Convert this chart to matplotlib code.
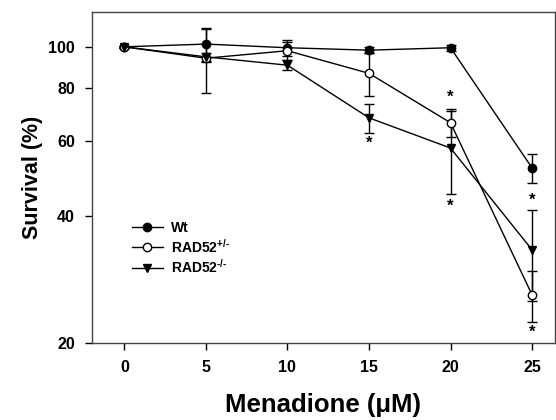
import matplotlib.pyplot as plt
from matplotlib.ticker import FixedLocator, NullLocator, FixedFormatter
from matplotlib.lines import Line2D

plt.rcParams['font.family'] = ['Liberation Sans', 'DejaVu Sans']
plt.rcParams['font.weight'] = 'bold'
plt.rcParams['mathtext.fontset'] = 'custom'
plt.rcParams['mathtext.rm'] = 'Liberation Sans:bold'
plt.rcParams['mathtext.bf'] = 'Liberation Sans:bold'
plt.rcParams['mathtext.default'] = 'bf'

# datos
dosis = [0, 5, 10, 15, 20, 25]
wt = [100, 101.5, 99.5, 98.2, 99.5, 51.8]
wt_err = [0.5, 9.5, 4.5, 1.5, 1.5, 4.0]
het = [100, 94, 97.9, 86.6, 66.2, 26.0]
het_err = [0.5, 16, 5, 10, 5, 3.6]
ko = [100, 94.7, 90.5, 68, 57.7, 33.2]
ko_err = [0.5, 2, 2.5, 5.3, 12.7, 8]
etiquetas = ['Wt', 'RAD52$^{+/\\text{-}}$', 'RAD52$^{\\text{-}/\\text{-}}$']
# asteriscos (dosis, valor)
ast_x = [15, 20, 20, 25, 25]
ast_y = [59.3, 76, 42, 43.4, 21.2]

fig = plt.figure(figsize=(5.56, 4.2), dpi=100)
ax = fig.add_axes([0.165, 0.183, 0.833, 0.788])

estilo = dict(color='black', lw=1, capsize=3.6, elinewidth=1, capthick=1, ms=6)
ax.errorbar(dosis, wt, yerr=wt_err, marker='o', mfc='black', mec='black', **estilo)
ax.errorbar(dosis, het, yerr=het_err, marker='o', mfc='white', mec='black', **estilo)
ax.errorbar(dosis, ko, yerr=ko_err, marker='v', mfc='black', mec='black', **estilo)

for x, y in zip(ast_x, ast_y):
    ax.text(x, y, '*', ha='center', va='center', fontsize=12, fontweight='bold')

ax.set_yscale('log')
ax.set_ylim(20, 120.7)
ax.set_xlim(-2.0, 26.4)
ax.yaxis.set_major_locator(FixedLocator([20, 40, 60, 80, 100]))
ax.yaxis.set_major_formatter(FixedFormatter(['20', '40', '60', '80', '100']))
ax.yaxis.set_minor_locator(NullLocator())
ax.set_xticks(dosis)
ax.tick_params(direction='out', length=5, width=1, labelsize=11.5, pad=7)
for lab in ax.get_xticklabels() + ax.get_yticklabels():
    lab.set_fontweight('bold')
for s in ax.spines.values():
    s.set_color('#444444')
    s.set_linewidth(1)

ax.set_xlabel('Menadione (μM)', fontsize=18.5, fontweight='bold', labelpad=13)
ax.set_ylabel('Survival (%)', fontsize=15.5, fontweight='bold', labelpad=4)

manijas = [
    Line2D([], [], color='black', lw=1, marker='o', mfc='black', mec='black', ms=6),
    Line2D([], [], color='black', lw=1, marker='o', mfc='white', mec='black', ms=6),
    Line2D([], [], color='black', lw=1, marker='v', mfc='black', mec='black', ms=6),
]
ax.legend(manijas, etiquetas, loc='lower left', bbox_to_anchor=(0.06, 0.165), frameon=False,
          fontsize=10, handlelength=2.2, handletextpad=0.6, labelspacing=0.2)

fig.savefig('out.png', dpi=100)
